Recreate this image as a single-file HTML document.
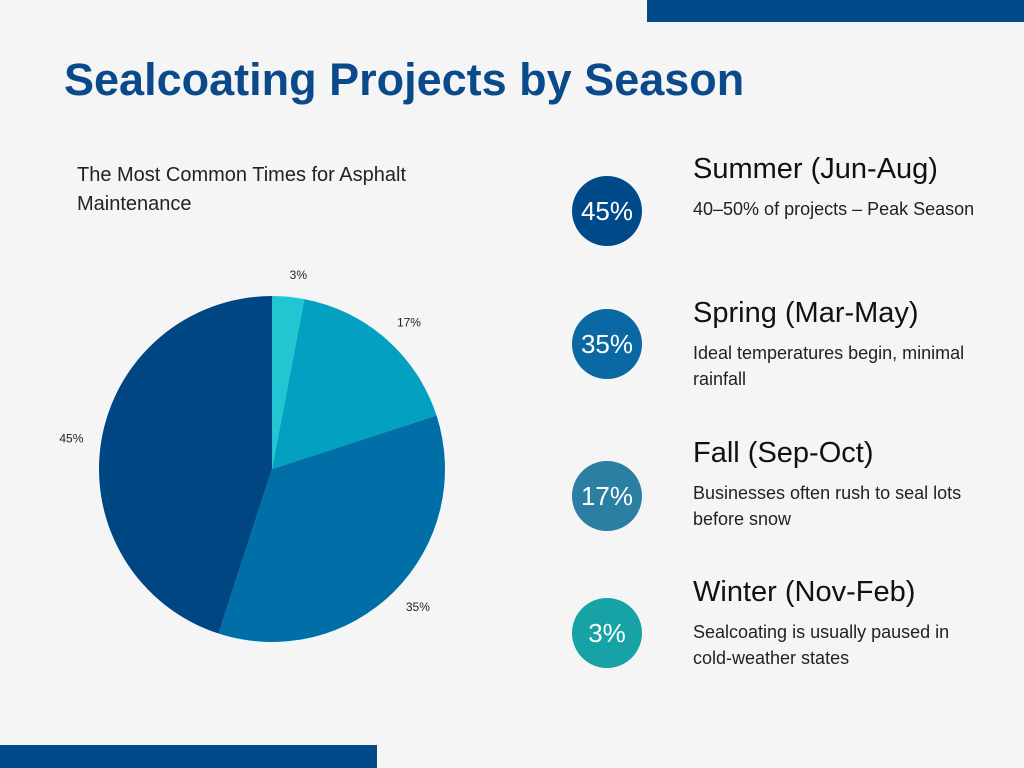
<!DOCTYPE html>
<html><head><meta charset="utf-8"><style>
body{margin:0;width:1024px;height:768px;background:#f5f5f5;position:relative;overflow:hidden;font-family:"Liberation Sans",sans-serif}
.abs{position:absolute}
.h{font-size:29px;color:#111;left:693px;white-space:nowrap}
.p{font-size:18px;color:#222;left:693px;line-height:26px;width:290px}
.c{left:572px;width:70px;height:70px;border-radius:50%;color:#fff;font-size:26px;text-align:center;line-height:70px}
</style></head><body>
<div class="abs" style="left:647px;top:0;width:377px;height:22px;background:#004a8a"></div>
<div class="abs" style="left:0;top:745px;width:377px;height:23px;background:#004a8a"></div>
<div class="abs" style="left:64px;top:54px;font-size:45px;font-weight:bold;color:#0a4a8a;white-space:nowrap">Sealcoating Projects by Season</div>
<div class="abs" style="left:77px;top:161px;font-size:20px;color:#222;line-height:29px;width:420px">The Most Common Times for Asphalt Maintenance</div>
<svg class="abs" style="left:0;top:0" width="1024" height="768" id="pie"></svg>

<div class="abs c" style="top:176px;background:#004a8a">45%</div>
<div class="abs h" style="top:153px">Summer (Jun-Aug)</div>
<div class="abs p" style="top:196px">40–50% of projects – Peak Season</div>

<div class="abs c" style="top:309px;background:#0a68a4">35%</div>
<div class="abs h" style="top:297px">Spring (Mar-May)</div>
<div class="abs p" style="top:340px">Ideal temperatures begin, minimal rainfall</div>

<div class="abs c" style="top:461px;background:#2a7fa2">17%</div>
<div class="abs h" style="top:437px">Fall (Sep-Oct)</div>
<div class="abs p" style="top:480px">Businesses often rush to seal lots before snow</div>

<div class="abs c" style="top:598px;background:#17a3a6">3%</div>
<div class="abs h" style="top:576px">Winter (Nov-Feb)</div>
<div class="abs p" style="top:619px">Sealcoating is usually paused in cold-weather states</div>

<script>
const categories=["Winter","Fall","Spring","Summer"];
const values=[3,17,35,45];
const colors=["#22c6d2","#04a0c2","#006fa8","#004683"];
const labels=["3%","17%","35%","45%"];
const svg=document.getElementById('pie');
const cx=272,cy=469,r=173;
const total=values.reduce((a,b)=>a+b,0);
let a0=-Math.PI/2;
values.forEach((v,i)=>{
  const a1=a0+v/total*2*Math.PI;
  const x0=cx+r*Math.cos(a0),y0=cy+r*Math.sin(a0),x1=cx+r*Math.cos(a1),y1=cy+r*Math.sin(a1);
  const p=document.createElementNS('http://www.w3.org/2000/svg','path');
  p.setAttribute('d',`M${cx},${cy}L${x0},${y0}A${r},${r} 0 ${a1-a0>Math.PI?1:0} 1 ${x1},${y1}Z`);
  p.setAttribute('fill',colors[i]);
  
  
  svg.appendChild(p);
  const am=(a0+a1)/2,lr=r+22;
  const t=document.createElementNS('http://www.w3.org/2000/svg','text');
  t.setAttribute('x',cx+lr*Math.cos(am)+ (Math.cos(am)>0?8:-8));
  t.setAttribute('y',cy+lr*Math.sin(am)+4);
  t.setAttribute('text-anchor','middle');
  t.setAttribute('font-size','12');
  t.setAttribute('fill','#222');
  t.setAttribute('font-family','Liberation Sans, sans-serif');
  t.textContent=labels[i];
  
  
  svg.appendChild(t);
  a0=a1;
});
</script>
</body></html>
